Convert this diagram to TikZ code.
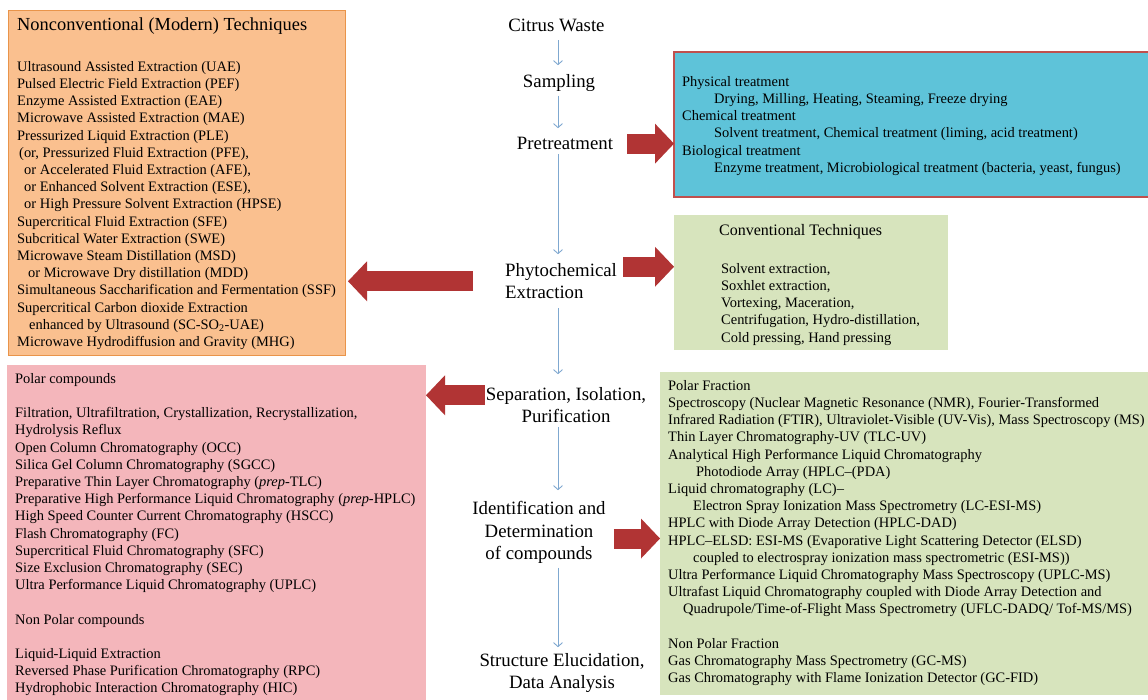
\documentclass[tikz,border=0pt]{standalone}
\usepackage{fontspec}
\setmainfont{Liberation Serif}
\usetikzlibrary{arrows.meta}
\definecolor{modernfill}{HTML}{FAC08F}
\definecolor{modernline}{HTML}{E9944A}
\definecolor{pretfill}{HTML}{5EC3D9}
\definecolor{pretline}{HTML}{C0504D}
\definecolor{greenfill}{HTML}{D7E4BD}
\definecolor{pinkfill}{HTML}{F4B6BB}
\definecolor{arrowred}{HTML}{B13434}
\definecolor{flowblue}{HTML}{7FA8D0}
\tikzset{
  box/.style={anchor=north west, inner sep=0pt, outer sep=0pt},
  boxtext/.style={anchor=north west, inner sep=0pt, align=left, font=\fontsize{14.45}{17.2}\selectfont},
  stage/.style={anchor=north, inner sep=0pt, align=center, font=\fontsize{18.8}{22.5}\selectfont},
  flow/.style={draw=flowblue, line width=0.9pt, -{Straight Barb[length=4pt,width=9pt]}, shorten <=4pt, shorten >=9pt},
  bigarrow/.style={draw=arrowred, line width=20pt, -{Triangle[length=19pt,width=40pt,line width=0pt]}}
}
\begin{document}
\begin{tikzpicture}[x=1pt,y=-1pt]
    \useasboundingbox[fill=white] (0,0) rectangle (1148,700);
    % boxes
    \node[box, fill=modernfill, draw=modernline, minimum width=337pt, minimum height=345pt] (modernbox) at (8,10) {};
    \node[box, fill=pretfill, draw=pretline, line width=1.2pt, minimum width=490pt, minimum height=145pt] (pretbox) at (674,52) {};
    \node[box, fill=greenfill, minimum width=274pt, minimum height=135pt] (convbox) at (674,215) {};
    \node[box, fill=pinkfill, minimum width=419pt, minimum height=345pt] (sepbox) at (7,365) {};
    \node[box, fill=greenfill, minimum width=500pt, minimum height=323pt] (identbox) at (660,372) {};
    % main chain
    \node[stage] (waste) at (556.5,19.3) {Citrus Waste};
    \node[stage] (sampling) at (559,74.2) {Sampling};
    \node[stage] (pretreat) at (565,137.2) {Pretreatment};
    \node[stage, anchor=north west, align=left] (phyto) at (505,263.2) {Phytochemical\\Extraction};
    \node[stage] (separation) at (566,387.2) {Separation, Isolation,\\Purification};
    \node[stage] (identify) at (539,501.2) {Identification and\\Determination\\of compounds};
    \node[stage] (structure) at (562,653.2) {Structure Elucidation,\\Data Analysis};
    \coordinate (spine) at (558,0);
    \draw[flow, shorten <=8pt] (waste.south -| spine) -- (sampling.north -| spine);
    \draw[flow] (sampling.south -| spine) -- (pretreat.north -| spine);
    \draw[flow] (pretreat.south -| spine) -- (phyto.north -| spine);
    \draw[flow, shorten <=9pt, shorten >=13pt] (phyto.south -| spine) -- (separation.north -| spine);
    \draw[flow, shorten >=11pt] (separation.south -| spine) -- (identify.north -| spine);
    \draw[flow, shorten >=6pt] (identify.south -| spine) -- (structure.north -| spine);
    % big arrows
    \draw[bigarrow, shorten <=14pt] (pretreat.east) -- (pretreat.east -| pretbox.west);
    \draw[bigarrow, shorten <=6pt] ([yshift=14.5pt]phyto.east) -- ([yshift=14.5pt]phyto.east -| convbox.west);
    \draw[bigarrow, shorten <=32pt, shorten >=3pt] (phyto.west) -- (phyto.west -| modernbox.east);
    \draw[bigarrow, shorten <=1pt] ([yshift=10pt]separation.west) -- ([yshift=10pt]separation.west -| sepbox.east);
    \draw[bigarrow, shorten <=8pt] ([yshift=-6pt]identify.east) -- ([yshift=-6pt]identify.east -| identbox.west);
    % box texts
    \node[boxtext, font=\fontsize{18.4}{22}\selectfont] (moderntitle) at (17,17.3) {Nonconventional (Modern) Techniques};
    \node[boxtext] (modernlist) at (17,61) {Ultrasound Assisted Extraction (UAE)\\
      Pulsed Electric Field Extraction (PEF)\\
      Enzyme Assisted Extraction (EAE)\\
      Microwave Assisted Extraction (MAE)\\
      Pressurized Liquid Extraction (PLE)\\
      \hspace*{2pt}(or, Pressurized Fluid Extraction (PFE),\\
      \hspace*{7pt}or Accelerated Fluid Extraction (AFE),\\
      \hspace*{7pt}or Enhanced Solvent Extraction (ESE),\\
      \hspace*{7pt}or High Pressure Solvent Extraction (HPSE)\\
      Supercritical Fluid Extraction (SFE)\\
      Subcritical Water Extraction (SWE)\\
      Microwave Steam Distillation (MSD)\\
      \hspace*{11pt}or Microwave Dry distillation (MDD)\\
      Simultaneous Saccharification and Fermentation (SSF)\\
      Supercritical Carbon dioxide Extraction\\
      \hspace*{12pt}enhanced by Ultrasound (SC-SO\textsubscript{2}-UAE)\\
      Microwave Hydrodiffusion and Gravity (MHG)};
    \node[boxtext] (pretlist) at (682,76) {Physical treatment\\
      \hspace*{32pt}Drying, Milling, Heating, Steaming, Freeze drying\\
      Chemical treatment\\
      \hspace*{32pt}Solvent treatment, Chemical treatment (liming, acid treatment)\\
      Biological treatment\\
      \hspace*{32pt}Enzyme treatment, Microbiological treatment (bacteria, yeast, fungus)};
    \node[boxtext, font=\fontsize{16}{19}\selectfont] (convtitle) at (719,224) {Conventional Techniques};
    \node[boxtext] (convlist) at (721,263) {Solvent extraction,\\
      Soxhlet extraction,\\
      Vortexing, Maceration,\\
      Centrifugation, Hydro-distillation,\\
      Cold pressing, Hand pressing};
    \node[boxtext] (seplist) at (15,373) {Polar compounds\\[17.2pt]
      Filtration, Ultrafiltration, Crystallization, Recrystallization,\\
      Hydrolysis Reflux\\
      Open Column Chromatography (OCC)\\
      Silica Gel Column Chromatography (SGCC)\\
      Preparative Thin Layer Chromatography (\textit{prep}-TLC)\\
      Preparative High Performance Liquid Chromatography (\textit{prep}-HPLC)\\
      High Speed Counter Current Chromatography (HSCC)\\
      Flash Chromatography (FC)\\
      Supercritical Fluid Chromatography (SFC)\\
      Size Exclusion Chromatography (SEC)\\
      Ultra Performance Liquid Chromatography (UPLC)\\[17.2pt]
      Non Polar compounds\\[17.2pt]
      Liquid-Liquid Extraction\\
      Reversed Phase Purification Chromatography (RPC)\\
      Hydrophobic Interaction Chromatography (HIC)};
    \node[boxtext] (identlist) at (668,380) {Polar Fraction\\
      Spectroscopy (Nuclear Magnetic Resonance (NMR), Fourier-Transformed\\
      Infrared Radiation (FTIR), Ultraviolet-Visible (UV-Vis), Mass Spectroscopy (MS)\\
      Thin Layer Chromatography-UV (TLC-UV)\\
      Analytical High Performance Liquid Chromatography\\
      \hspace*{28pt}Photodiode Array (HPLC--(PDA)\\
      Liquid chromatography (LC)--\\
      \hspace*{25pt}Electron Spray Ionization Mass Spectrometry (LC-ESI-MS)\\
      HPLC with Diode Array Detection (HPLC-DAD)\\
      HPLC--ELSD: ESI-MS (Evaporative Light Scattering Detector (ELSD)\\
      \hspace*{25pt}coupled to electrospray ionization mass spectrometric (ESI-MS))\\
      Ultra Performance Liquid Chromatography Mass Spectroscopy (UPLC-MS)\\
      Ultrafast Liquid Chromatography coupled with Diode Array Detection and\\
      \hspace*{15pt}Quadrupole/Time-of-Flight Mass Spectrometry (UFLC-DADQ/ Tof-MS/MS)\\[17.2pt]
      Non Polar Fraction\\
      Gas Chromatography Mass Spectrometry (GC-MS)\\
      Gas Chromatography with Flame Ionization Detector (GC-FID)};
\end{tikzpicture}
\end{document}
